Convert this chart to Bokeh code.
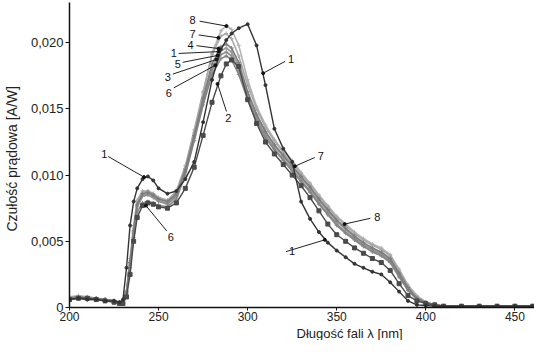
from bokeh.plotting import figure
from bokeh.models import Range1d, FixedTicker, Title
from bokeh.core.properties import value
from bokeh.embed import file_html
from bokeh.resources import INLINE

# wavelength grid [nm]
lam = [200, 205, 210, 215, 220, 225, 228, 230, 232, 234, 236, 238, 241, 244, 247, 250,
       255, 260, 265, 270, 275, 280, 285, 288, 291,
       295, 300, 305, 310, 315, 320, 325, 330, 335, 340, 345, 350, 355, 360, 365, 370,
       375, 380, 385, 390, 395, 400, 405, 410, 420, 430, 440, 450, 460, 465]

c1 = [0.0006, 0.0007, 0.0006, 0.0006, 0.0005, 0.0005,
      0.0004, 0.0006, 0.0030, 0.0062, 0.0080, 0.0090,
      0.0097, 0.0099, 0.0096, 0.0090,
      0.0086, 0.0088, 0.0097, 0.0110, 0.0140, 0.0172, 0.0195,
      0.0202, 0.0207,
      0.0211, 0.0214, 0.0198, 0.0168, 0.0135, 0.0120, 0.0110, 0.0080, 0.0067, 0.0057, 0.0049, 0.0043,
      0.0038, 0.0033, 0.0030, 0.0027, 0.0025, 0.0019, 0.0012, 0.0005, 0.0002, 0.00015, 0.0001, 0.0001,
      0.0001, 0.0001, 0.0001, 0.0001, 0.0001, 0.0001]
c2 = [0.0006, 0.0007, 0.0007, 0.0006, 0.0005, 0.0004,
      0.0003, 0.0003, 0.0008, 0.0025, 0.0050, 0.0068,
      0.0077, 0.0079, 0.0078, 0.0076,
      0.0075, 0.0079, 0.0090, 0.0106, 0.0130, 0.0155, 0.0175,
      0.0184, 0.0187,
      0.0182, 0.0157, 0.0139, 0.0125, 0.0116, 0.0108, 0.0100, 0.0092, 0.0083, 0.0073, 0.0063, 0.0055,
      0.0050, 0.0045, 0.0041, 0.0037, 0.0034, 0.0028, 0.0018, 0.0009, 0.0005, 0.0003, 0.0002, 0.0001,
      0.0001, 0.0001, 0.0001, 0.0001, 0.0001, 0.0001]
c3 = [0.0007, 0.0007, 0.0006, 0.0006, 0.0005, 0.0005,
      0.0004, 0.0004, 0.0011, 0.0032, 0.0056, 0.0076,
      0.0084, 0.0085, 0.0083, 0.0080,
      0.0078, 0.0084, 0.0102, 0.0128, 0.0155, 0.0179, 0.0191,
      0.0193, 0.0190,
      0.0179, 0.0159, 0.0143, 0.0130, 0.0120, 0.0112, 0.0104, 0.0096, 0.0088, 0.0079, 0.0071, 0.0063,
      0.0057, 0.0052, 0.0047, 0.0043, 0.0040, 0.0035, 0.0024, 0.0013, 0.0006, 0.0003, 0.0002, 0.0001,
      0.0001, 0.0001, 0.0001, 0.0001, 0.0001, 0.0001]
c4 = [0.0007, 0.0008, 0.0007, 0.0007, 0.0006, 0.0005,
      0.0004, 0.0004, 0.0012, 0.0034, 0.0058, 0.0078,
      0.0086, 0.0087, 0.0085, 0.0082,
      0.0080, 0.0086, 0.0104, 0.0130, 0.0158, 0.0184, 0.0197,
      0.0199, 0.0196,
      0.0185, 0.0163, 0.0146, 0.0133, 0.0123, 0.0115, 0.0107, 0.0099, 0.0091, 0.0082, 0.0074, 0.0066,
      0.0060, 0.0054, 0.0049, 0.0045, 0.0042, 0.0037, 0.0026, 0.0015, 0.0007, 0.0004, 0.0002, 0.0001,
      0.0001, 0.0001, 0.0001, 0.0001, 0.0001, 0.0001]
c5 = [0.0008, 0.0007, 0.0007, 0.0006, 0.0006, 0.0005,
      0.0004, 0.0004, 0.0011, 0.0033, 0.0057, 0.0077,
      0.0085, 0.0086, 0.0084, 0.0081,
      0.0079, 0.0085, 0.0103, 0.0129, 0.0156, 0.0181, 0.0194,
      0.0196, 0.0193,
      0.0182, 0.0161, 0.0145, 0.0132, 0.0122, 0.0114, 0.0106, 0.0098, 0.0090, 0.0081, 0.0073, 0.0065,
      0.0059, 0.0053, 0.0048, 0.0044, 0.0041, 0.0036, 0.0025, 0.0014, 0.0007, 0.0003, 0.0002, 0.0001,
      0.0001, 0.0001, 0.0001, 0.0001, 0.0001, 0.0001]
c6 = [0.0007, 0.0008, 0.0007, 0.0006, 0.0006, 0.0005,
      0.0004, 0.0004, 0.0010, 0.0030, 0.0053, 0.0072,
      0.0079, 0.0080, 0.0079, 0.0077,
      0.0076, 0.0082, 0.0100, 0.0126, 0.0153, 0.0176, 0.0188,
      0.0190, 0.0187,
      0.0176, 0.0157, 0.0141, 0.0128, 0.0119, 0.0111, 0.0103, 0.0095, 0.0087, 0.0078, 0.0070, 0.0062,
      0.0056, 0.0051, 0.0046, 0.0042, 0.0039, 0.0034, 0.0023, 0.0013, 0.0006, 0.0003, 0.0002, 0.0001,
      0.0001, 0.0001, 0.0001, 0.0001, 0.0001, 0.0001]
c7 = [0.0007, 0.0008, 0.0008, 0.0007, 0.0006, 0.0005,
      0.0004, 0.0004, 0.0013, 0.0037, 0.0062, 0.0081,
      0.0088, 0.0088, 0.0086, 0.0083,
      0.0081, 0.0088, 0.0107, 0.0134, 0.0163, 0.0191, 0.0205,
      0.0207, 0.0203,
      0.0190, 0.0168, 0.0150, 0.0136, 0.0126, 0.0117, 0.0109, 0.0101, 0.0093, 0.0084, 0.0076, 0.0068,
      0.0062, 0.0056, 0.0051, 0.0047, 0.0044, 0.0039, 0.0028, 0.0016, 0.0008, 0.0004, 0.0002, 0.00012,
      0.0001, 0.0001, 0.0001, 0.0001, 0.0001, 0.0001]
c8 = [0.0008, 0.0009, 0.0008, 0.0007, 0.0006, 0.0005,
      0.0004, 0.0004, 0.0012, 0.0035, 0.0060, 0.0080,
      0.0087, 0.0088, 0.0086, 0.0083,
      0.0081, 0.0087, 0.0105, 0.0132, 0.0162, 0.0192, 0.0209,
      0.0213, 0.0210,
      0.0198, 0.0172, 0.0152, 0.0138, 0.0127, 0.0118, 0.0111, 0.0102, 0.0094, 0.0085, 0.0077, 0.0069,
      0.0063, 0.0057, 0.0052, 0.0048, 0.0045, 0.0040, 0.0029, 0.0017, 0.0009, 0.0004, 0.0002, 0.00012,
      0.0001, 0.0001, 0.0001, 0.0001, 0.0001, 0.0001]

x_ticks = [200, 250, 300, 350, 400, 450]
y_ticks = [0.0, 0.005, 0.010, 0.015, 0.020]
y_tick_labels = ["0", "0,005", "0,010", "0,015", "0,020"]
x_title = "Długość fali λ   [nm]"
y_title = "Czułość prądowa   [A/W]"

# curve number annotations: text position and leader line (data units)
ann_text = ["8", "7", "4", "1", "5", "3", "6", "2", "1", "1", "6", "7", "8", "1"]
ann_x = [269.1, 269.1, 268.0, 258.5, 260.8, 255.2, 255.7, 289.2, 324.3, 219.5, 256.9, 341.0, 372.8, 324.9]
ann_y = [0.02170, 0.02067, 0.01985, 0.01919, 0.01837, 0.01741, 0.01622, 0.01430, 0.01874, 0.01163,
         0.00533, 0.01148, 0.00681, 0.00430]
lead_x0 = [273.0, 272.5, 271.3, 261.3, 263.5, 258.0, 258.5, 288.1, 321.0, 221.7, 254.6, 337.7, 368.9, 321.5]
lead_y0 = [0.02163, 0.02059, 0.01978, 0.01919, 0.01852, 0.01763, 0.01659, 0.01481, 0.01859, 0.01141,
           0.00578, 0.01133, 0.00674, 0.00422]
lead_x1 = [288.1, 283.6, 283.6, 283.6, 283.1, 282.5, 281.9, 283.1, 308.7, 241.8, 242.9, 326.5, 354.4, 343.3]
lead_y1 = [0.02126, 0.02037, 0.01956, 0.01933, 0.01904, 0.01874, 0.01830, 0.01689, 0.01770, 0.00985,
           0.00770, 0.01067, 0.00630, 0.00511]

FONT = "Liberation Sans"

p = figure(width=534, height=340, output_backend="svg", toolbar_location=None,
           x_range=Range1d(200, 461), y_range=Range1d(0, 0.02304),
           min_border_left=65, min_border_right=0, min_border_top=2, min_border_bottom=10)
p.outline_line_color = None
p.xgrid.visible = False
p.ygrid.visible = False
p.background_fill_color = "white"

grays = [(c8, "#b4b4b4"), (c7, "#a8a8a8"), (c5, "#9a9a9a"), (c3, "#8e8e8e"),
         (c6, "#858585"), (c4, "#7c7c7c")]
for ys, col in grays:
    p.line(lam, ys, line_color=col, line_width=1.6)
    p.scatter(lam, ys, marker="cross", size=4, line_color=col, line_width=1)

p.line(lam, c2, line_color="#4a4a4a", line_width=1.4)
p.scatter(lam, c2, marker="square", size=4, fill_color="#4a4a4a", line_color="#4a4a4a")
p.line(lam, c1, line_color="#333333", line_width=1.4)
p.scatter(lam, c1, marker="circle", size=3, fill_color="#333333", line_color="#333333")

p.segment(lead_x0, lead_y0, lead_x1, lead_y1, line_color="#222222", line_width=1)
p.scatter(lead_x1, lead_y1, marker="circle", size=3, fill_color="#111111", line_color="#111111")
p.text(ann_x, ann_y, text=ann_text, text_font=value(FONT), text_font_size="11px",
       text_align="center", text_baseline="middle", text_color="#111111")

for ax in (p.xaxis[0], p.yaxis[0]):
    ax.axis_line_color = "#111111"
    ax.axis_line_width = 1.5
    ax.major_tick_line_color = "#111111"
    ax.major_tick_out = 4
    ax.major_tick_in = 0
    ax.minor_tick_line_color = None
    ax.major_label_text_font = FONT
    ax.major_label_text_font_size = "13px"
    ax.major_label_text_color = "#222222"
    ax.axis_label_text_font = FONT
    ax.axis_label_text_font_size = "14px"
    ax.axis_label_text_font_style = "normal"
    ax.axis_label_text_color = "#222222"

p.xaxis.ticker = FixedTicker(ticks=x_ticks)
p.yaxis.ticker = FixedTicker(ticks=y_ticks)
p.yaxis.major_label_overrides = {t: l for t, l in zip(y_ticks, y_tick_labels)}
p.xaxis.major_tick_out = 3
p.xaxis.major_label_standoff = 1
p.xaxis.major_label_text_font_size = "12px"
p.yaxis.major_label_standoff = 2
p.yaxis.axis_label_standoff = 8
p.yaxis.axis_label = y_title

p.add_layout(Title(text=x_title, align="left", offset=227, standoff=0,
                   text_font=FONT, text_font_size="13px", text_font_style="normal",
                   text_color="#222222"), "below")

open("out.html", "w").write(file_html(p, INLINE))
